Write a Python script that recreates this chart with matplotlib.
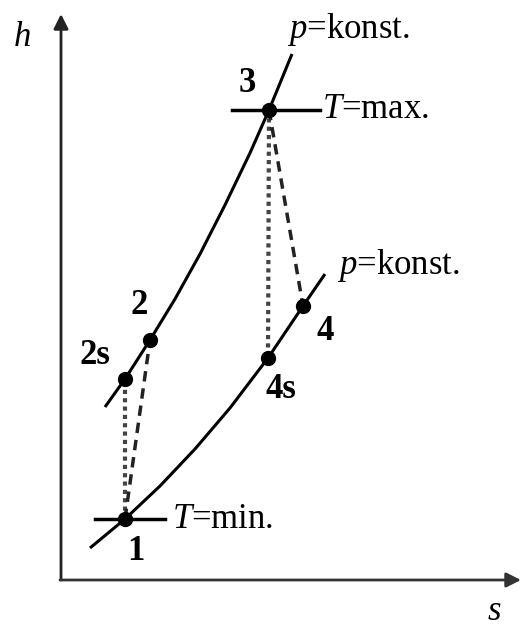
import matplotlib
matplotlib.use("Agg")
import matplotlib.pyplot as plt

plt.rcParams['font.family'] = ['Liberation Serif', 'DejaVu Serif']
plt.rcParams['mathtext.fontset'] = 'custom'
plt.rcParams['mathtext.rm'] = 'Liberation Serif'
plt.rcParams['mathtext.it'] = 'Liberation Serif:italic'

# h-s Diagramm (Joule-Prozess), Werte in Bildkoordinaten abgelesen
# obere Isobare (durch 2s, 2, 3)
upper_s = [105, 125, 150, 175, 200, 225, 250, 269, 292]
upper_h = [407, 379, 340, 299, 254, 205, 153, 110, 54]
# untere Isobare (durch 1, 4s, 4)
lower_s = [90, 125, 160, 195, 230, 268, 303, 325]
lower_h = [548, 519, 486, 449, 408, 358, 306, 274]

# Zustandspunkte
state_names = ['1', '2s', '2', '3', '4s', '4']
state_s = [125, 125, 150, 269, 268, 303]
state_h = [519, 379, 340, 110, 358, 306]

# Isothermen-Striche bei T=min. und T=max.
iso_s = [[95, 165], [232, 320]]
iso_h = [519, 110]


def pt(name):
    i = state_names.index(name)
    return state_s[i], state_h[i]


fig = plt.figure(figsize=(5.21, 6.27), dpi=100)
ax = fig.add_axes([0, 0, 1, 1])
ax.set_xlim(0, 521)
ax.set_ylim(627, 0)
ax.axis('off')

# Achsen
ax.annotate('', xy=(61, 14), xytext=(61, 580),
            arrowprops=dict(arrowstyle='-|>', lw=2, color='#222', mutation_scale=22, shrinkA=0, shrinkB=0))
ax.annotate('', xy=(521, 580), xytext=(60, 580),
            arrowprops=dict(arrowstyle='-|>', lw=2, color='#333', mutation_scale=22, shrinkA=0, shrinkB=0))

# Isobaren
ax.plot(upper_s, upper_h, color='black', lw=2.2, solid_capstyle='butt', solid_joinstyle='round')
ax.plot(lower_s, lower_h, color='black', lw=2.2, solid_capstyle='butt', solid_joinstyle='round')

# Isothermen
for xs, y in zip(iso_s, iso_h):
    ax.plot(xs, [y, y], color='black', lw=2.5)

# isentrope (gepunktet) und reale (gestrichelt) Zustandsaenderungen
for a, b in [('1', '2s'), ('3', '4s')]:
    (x0, y0), (x1, y1) = pt(a), pt(b)
    ax.plot([x0, x1], [y0, y1], color='#444', lw=3, linestyle=(0, (1, 1)))
for a, b in [('1', '2'), ('3', '4')]:
    (x0, y0), (x1, y1) = pt(a), pt(b)
    ax.plot([x0, x1], [y0, y1], color='#222', lw=2.5, linestyle=(0, (3, 2)))

ax.plot(state_s, state_h, 'o', color='black', markersize=10, zorder=5)

# Beschriftungen
fs = 25
ax.text(22, 38, r'$h$', fontsize=fs, ha='center', va='center')
ax.text(494, 612, r'$s$', fontsize=fs, ha='center', va='center')
ax.text(287, 30, r'$p$=konst.', fontsize=fs, ha='left', va='center')
ax.text(337, 265, r'$p$=konst.', fontsize=fs, ha='left', va='center')
ax.text(322, 110, r'$T$=max.', fontsize=fs, ha='left', va='center')
ax.text(172, 519, r'$T$=min.', fontsize=fs, ha='left', va='center')

lab_pos = {'1': (136, 552), '2s': (95, 355), '2': (139, 305),
           '3': (247, 84), '4s': (281, 390), '4': (325, 332)}
for name, (x, y) in lab_pos.items():
    ax.text(x, y, name, fontsize=fs, fontweight='bold', ha='center', va='center')

fig.savefig('out.png', dpi=100)
